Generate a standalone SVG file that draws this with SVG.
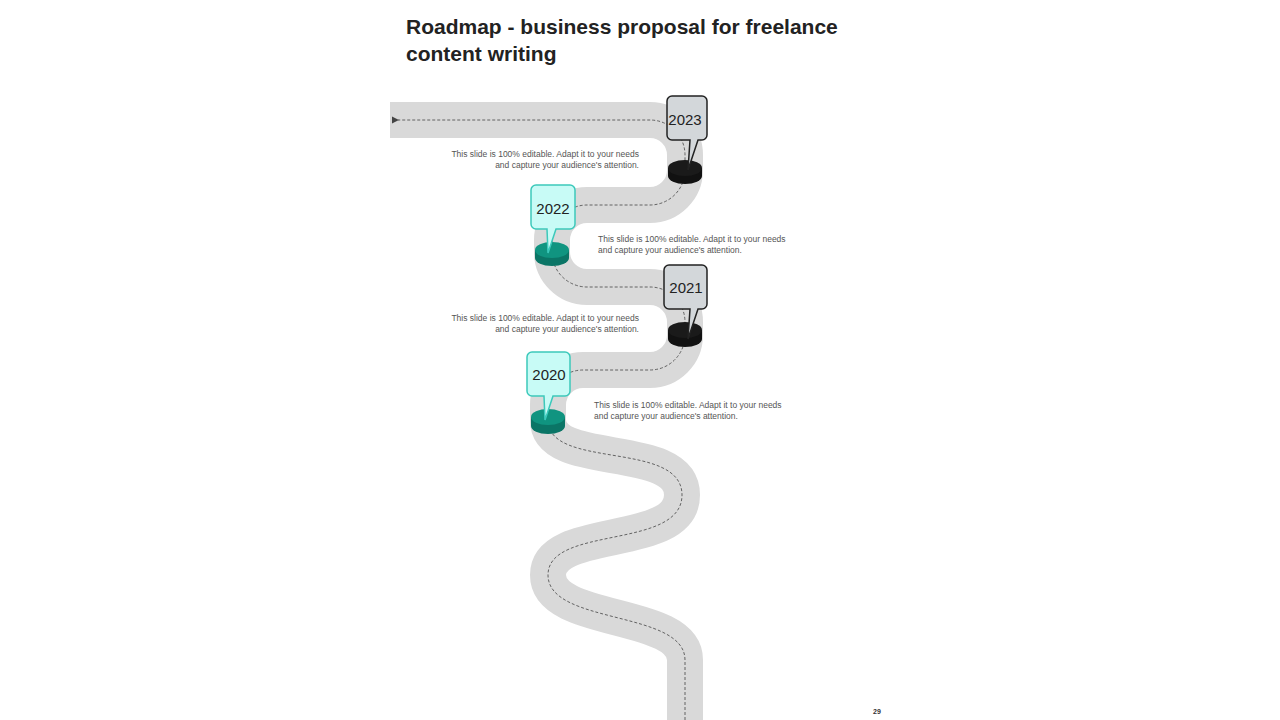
<svg xmlns="http://www.w3.org/2000/svg" width="1280" height="720" viewBox="0 0 1280 720">
<style>
.t{font-family:"Liberation Sans",Arial,sans-serif}
.d{font-size:8.5px;fill:#555}
.y{font-size:15px;fill:#222;text-anchor:middle}
.bg{fill:#d3d7da;stroke:#222;stroke-width:1.5}
.bt{fill:#c8fbf6;stroke:#3cc9bb;stroke-width:1.5}
</style>
<defs><marker id="ar" markerWidth="8" markerHeight="8" refX="1" refY="4" orient="auto"><path d="M8,0L0,4L8,8z" fill="#444"/></marker></defs>
<rect width="1280" height="720" fill="#fff"/>
<text class="t" x="406" y="34" font-size="21" font-weight="bold" fill="#222">Roadmap - business proposal for freelance</text>
<text class="t" x="406" y="61" font-size="21" font-weight="bold" fill="#222">content writing</text>
<g id="connectors">
<path d="M390,120 H650 A35,35 0 0 1 685,155 V170 A35,35 0 0 1 650,205 H587 A35,35 0 0 0 552,240 V252 A35,35 0 0 0 587,287 H650 A35,35 0 0 1 685,322 V335 A35,35 0 0 1 650,370 H583 A35,35 0 0 0 548,405 V420 C548,470 682,440 682,495 C682,550 548,525 548,575 C548,625 685,610 685,660 V720" fill="none" stroke="#d9d9d9" stroke-width="36"/>
<path d="M685,720 V660 C685,610 548,625 548,575 C548,525 682,550 682,495 C682,440 548,470 548,420 V405 A35,35 0 0 1 583,370 H650 A35,35 0 0 0 685,335 V322 A35,35 0 0 0 650,287 H587 A35,35 0 0 1 552,252 V240 A35,35 0 0 1 587,205 H650 A35,35 0 0 0 685,170 V155 A35,35 0 0 0 650,120 H398" fill="none" stroke="#555" stroke-width="0.9" stroke-dasharray="3,2" marker-end="url(#ar)"/>
</g>
<g id="n2023">
<path d="M668,168 v8 a17,8 0 0 0 34,0 v-8z" fill="#111"/><ellipse cx="685" cy="168" rx="17" ry="8" fill="#1a1a1a"/>
<path class="bg" d="M672,96 h30 a5,5 0 0 1 5,5 v34 a5,5 0 0 1 -5,5 h-4 l-10,30 l2,-30 h-18 a5,5 0 0 1 -5,-5 v-34 a5,5 0 0 1 5,-5z"/>
<text class="t y" x="685" y="125">2023</text>
<text class="t d" x="639" y="157" text-anchor="end">This slide is 100% editable. Adapt it to your needs</text>
<text class="t d" x="639" y="168" text-anchor="end">and capture your audience's attention.</text>
</g>
<g id="n2022">
<path d="M535,250 v8 a17,8 0 0 0 34,0 v-8z" fill="#0b7566"/><ellipse cx="552" cy="250" rx="17" ry="8" fill="#109480"/>
<path class="bt" d="M536,185 h34 a5,5 0 0 1 5,5 v34 a5,5 0 0 1 -5,5 h-14 l-8,24 l-1,-24 h-11 a5,5 0 0 1 -5,-5 v-34 a5,5 0 0 1 5,-5z"/>
<text class="t y" x="553" y="214">2022</text>
<text class="t d" x="598" y="242">This slide is 100% editable. Adapt it to your needs</text>
<text class="t d" x="598" y="253">and capture your audience's attention.</text>
</g>
<g id="n2021">
<path d="M668,330 v9 a17,8 0 0 0 34,0 v-9z" fill="#111"/><ellipse cx="685" cy="330" rx="17" ry="8" fill="#1a1a1a"/>
<path class="bg" d="M669,265 h33 a5,5 0 0 1 5,5 v34 a5,5 0 0 1 -5,5 h-4 l-10,30 l2,-30 h-21 a5,5 0 0 1 -5,-5 v-34 a5,5 0 0 1 5,-5z"/>
<text class="t y" x="686" y="293">2021</text>
<text class="t d" x="639" y="321" text-anchor="end">This slide is 100% editable. Adapt it to your needs</text>
<text class="t d" x="639" y="332" text-anchor="end">and capture your audience's attention.</text>
</g>
<g id="n2020">
<path d="M531,417 v9 a17,8 0 0 0 34,0 v-9z" fill="#0b7566"/><ellipse cx="548" cy="417" rx="17" ry="8" fill="#109480"/>
<path class="bt" d="M532,352 h33 a5,5 0 0 1 5,5 v34 a5,5 0 0 1 -5,5 h-12 l-8,24 l-1,-24 h-12 a5,5 0 0 1 -5,-5 v-34 a5,5 0 0 1 5,-5z"/>
<text class="t y" x="549" y="380">2020</text>
<text class="t d" x="594" y="408">This slide is 100% editable. Adapt it to your needs</text>
<text class="t d" x="594" y="419">and capture your audience's attention.</text>
</g>
<text class="t" x="877" y="714" font-size="7" font-weight="bold" fill="#333" text-anchor="middle">29</text>
</svg>
